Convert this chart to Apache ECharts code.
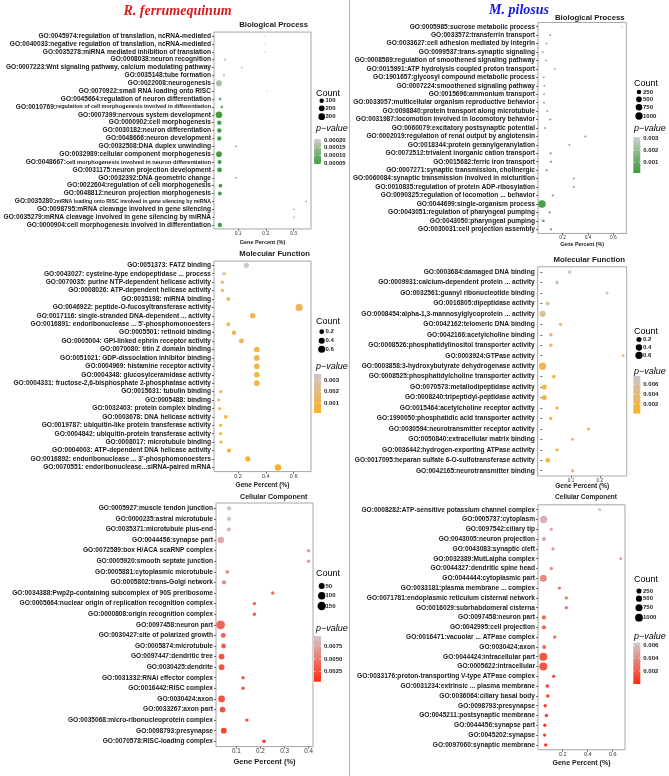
<!DOCTYPE html>
<html><head><meta charset="utf-8">
<script src="https://cdn.jsdelivr.net/npm/echarts@6/dist/echarts.min.js"></script>
<style>html,body{margin:0;padding:0;background:#fff}#c{width:669px;height:776px}</style>
</head><body><div id="c"></div><script>
// ---------------- DATA ----------------
const rfBpTerms = [
"GO:0045974:regulation of translation, ncRNA-mediated",
"GO:0040033:negative regulation of translation, ncRNA-mediated",
"GO:0035278:miRNA mediated inhibition of translation",
"GO:0008038:neuron recognition",
"GO:0007223:Wnt signaling pathway, calcium modulating pathway",
"GO:0035148:tube formation",
"GO:0022008:neurogenesis",
"GO:0070922:small RNA loading onto RISC",
"GO:0045664:regulation of neuron differentiation",
"GO:0010769:regulation of cell morphogenesis involved in differentiation",
"GO:0007399:nervous system development",
"GO:0000902:cell morphogenesis",
"GO:0030182:neuron differentiation",
"GO:0048666:neuron development",
"GO:0032508:DNA duplex unwinding",
"GO:0032989:cellular component morphogenesis",
"GO:0048667:cell morphogenesis involved in neuron differentiation",
"GO:0031175:neuron projection development",
"GO:0032392:DNA geometric change",
"GO:0022604:regulation of cell morphogenesis",
"GO:0048812:neuron projection morphogenesis",
"GO:0035280:miRNA loading onto RISC involved in gene silencing by miRNA",
"GO:0098795:mRNA cleavage involved in gene silencing",
"GO:0035279:mRNA cleavage involved in gene silencing by miRNA",
"GO:0000904:cell morphogenesis involved in differentiation"];
const rfBpPct = [0.198,0.198,0.198,0.053,0.113,0.049,0.031,0.204,0.035,0.041,0.031,0.032,0.032,0.032,0.092,0.031,0.033,0.033,0.092,0.036,0.034,0.346,0.302,0.302,0.034];
const rfBpCount = [2,2,2,7,4,7,230,2,32,17,300,94,94,94,3,200,76,120,3,61,61,2,2,2,94];
const rfBpP = [0.0002,0.0002,0.0002,0.00018,0.00019,0.00017,0.00017,0.0002,0.00011,0.00008,0.00005,0.00005,0.00005,0.00005,0.00006,0.00005,0.00005,0.00005,0.00006,0.00005,0.00005,0.00005,0.00005,0.00005,0.00005];
const rfBpTicks = [0.1,0.2,0.3];
const rfBpCountBreaks = [100,200,300];
const rfBpPBreaks = [0.0002,0.00015,0.0001,0.00005];
const rfBpPLabels = ["0.00020","0.00015","0.00010","0.00005"];

const rfMfTerms = [
"GO:0051373: FATZ binding",
"GO:0043027: cysteine-type endopeptidase ... process",
"GO:0070035: purine NTP-dependent helicase activity",
"GO:0008026: ATP-dependent helicase activity",
"GO:0035198: miRNA binding",
"GO:0046922: peptide-O-fucosyltransferase activity",
"GO:0017116: single-stranded DNA-dependent ... activity",
"GO:0016891: endoribonuclease ... 5'-phosphomonoesters",
"GO:0005501: retinoid binding",
"GO:0005004: GPI-linked ephrin receptor activity",
"GO:0070080: titin Z domain binding",
"GO:0051021: GDP-dissociation inhibitor binding",
"GO:0004969: histamine receptor activity",
"GO:0004348: glucosylceramidase activity",
"GO:0004331: fructose-2,6-bisphosphate 2-phosphatase activity",
"GO:0015631: tubulin binding",
"GO:0005488: binding",
"GO:0032403: protein complex binding",
"GO:0003678: DNA helicase activity",
"GO:0019787: ubiquitin-like protein transferase activity",
"GO:0004842: ubiquitin-protein transferase activity",
"GO:0008017: microtubule binding",
"GO:0004003: ATP-dependent DNA helicase activity",
"GO:0016892: endoribonuclease ... 3'-phosphomonoesters",
"GO:0070551: endoribonuclease...siRNA-paired mRNA"];
const rfMfPct = [0.26,0.099,0.087,0.087,0.13,0.64,0.306,0.13,0.171,0.224,0.335,0.335,0.335,0.335,0.335,0.075,0.06,0.068,0.111,0.075,0.075,0.077,0.135,0.27,0.487];
const rfMfCount = [0.26,0.099,0.087,0.087,0.13,0.64,0.306,0.13,0.171,0.224,0.335,0.335,0.335,0.335,0.335,0.075,0.06,0.068,0.111,0.075,0.075,0.077,0.135,0.27,0.487];
const rfMfP = [0.0035,0.0025,0.0019,0.0019,0.0016,0.0013,0.0012,0.0013,0.0012,0.0011,0.001,0.001,0.001,0.001,0.001,0.0008,0.0008,0.0008,0.0007,0.0007,0.0007,0.0007,0.0006,0.0005,0.0004];
const rfMfTicks = [0.2,0.4,0.6];
const rfMfCountBreaks = [0.2,0.4,0.6];
const rfMfPBreaks = [0.003,0.002,0.001];
const rfMfPLabels = ["0.003","0.002","0.001"];

const rfCcTerms = [
"GO:0005927:muscle tendon junction",
"GO:0000235:astral microtubule",
"GO:0035371:microtubule plus-end",
"GO:0044456:synapse part",
"GO:0072589:box H/ACA scaRNP complex",
"GO:0005920:smooth septate junction",
"GO:0005881:cytoplasmic microtubule",
"GO:0005802:trans-Golgi network",
"GO:0034388:Pwp2p-containing subcomplex of 90S preribosome",
"GO:0005664:nuclear origin of replication recognition complex",
"GO:0000808:origin recognition complex",
"GO:0097458:neuron part",
"GO:0030427:site of polarized growth",
"GO:0005874:microtubule",
"GO:0097447:dendritic tree",
"GO:0030425:dendrite",
"GO:0031332:RNAi effector complex",
"GO:0016442:RISC complex",
"GO:0030424:axon",
"GO:0033267:axon part",
"GO:0035068:micro-ribonucleoprotein complex",
"GO:0098793:presynapse",
"GO:0070578:RISC-loading complex"];
const rfCcPct = [0.070,0.070,0.069,0.036,0.40,0.40,0.063,0.049,0.251,0.175,0.175,0.035,0.046,0.047,0.039,0.039,0.128,0.128,0.039,0.043,0.144,0.048,0.215];
const rfCcCount = [10,10,10,62,4,4,7,10,4,4,4,175,20,20,42,42,4,4,72,42,4,42,4];
const rfCcP = [0.009,0.009,0.0085,0.0078,0.0068,0.0068,0.0065,0.006,0.004,0.0035,0.0035,0.004,0.0033,0.0033,0.003,0.003,0.003,0.003,0.0028,0.0028,0.0025,0.0018,0.001];
const rfCcTicks = [0.1,0.2,0.3,0.4];
const rfCcCountBreaks = [50,100,150];
const rfCcPBreaks = [0.0075,0.005,0.0025];
const rfCcPLabels = ["0.0075","0.0050","0.0025"];

const mpBpTerms = [
"GO:0005985:sucrose metabolic process",
"GO:0033572:transferrin transport",
"GO:0033627:cell adhesion mediated by integrin",
"GO:0099537:trans-synaptic signaling",
"GO:0008589:regulation of smoothened signaling pathway",
"GO:0015991:ATP hydrolysis coupled proton transport",
"GO:1901657:glycosyl compound metabolic process",
"GO:0007224:smoothened signaling pathway",
"GO:0015696:ammonium transport",
"GO:0033057:multicellular organism reproductive behavior",
"GO:0098840:protein transport along microtubule",
"GO:0031987:locomotion involved in locomotory behavior",
"GO:0060079:excitatory postsynaptic potential",
"GO:0002019:regulation of renal output by angiotensin",
"GO:0018344:protein geranylgeranylation",
"GO:0072512:trivalent inorganic cation transport",
"GO:0015682:ferric iron transport",
"GO:0007271:synaptic transmission, cholinergic",
"GO:0060084:synaptic transmission involved in micturition",
"GO:0010835:regulation of protein ADP-ribosylation",
"GO:0090325:regulation of locomotion ... behavior",
"GO:0044699:single-organism process",
"GO:0043051:regulation of pharyngeal pumping",
"GO:0043050:pharyngeal pumping",
"GO:0030031:cell projection assembly"];
const mpBpPct = [0.671,0.102,0.073,0.042,0.068,0.137,0.050,0.055,0.052,0.052,0.078,0.102,0.06,0.379,0.252,0.105,0.107,0.073,0.287,0.287,0.121,0.036,0.097,0.047,0.107];
const mpBpCount = [3,8,8,10,8,5,10,10,10,10,8,8,10,4,4,8,8,8,4,4,8,1100,8,40,12];
const mpBpP = [0.003,0.0019,0.0019,0.002,0.0019,0.0019,0.0019,0.0019,0.0018,0.0018,0.0017,0.0012,0.0016,0.0008,0.0008,0.0008,0.0008,0.0009,0.0007,0.0007,0.0008,0.0003,0.0008,0.0007,0.0007];
const mpBpTicks = [0.2,0.4,0.6];
const mpBpCountBreaks = [250,500,750,1000];
const mpBpPBreaks = [0.003,0.002,0.001];
const mpBpPLabels = ["0.003","0.002","0.001"];

const mpMfTerms = [
"GO:0003684:damaged DNA binding",
"GO:0009931:calcium-dependent protein ... activity",
"GO:0032561:guanyl ribonucleotide binding",
"GO:0016805:dipeptidase activity",
"GO:0008454:alpha-1,3-mannosylglycoprotein ... activity",
"GO:0042162:telomeric DNA binding",
"GO:0042166:acetylcholine binding",
"GO:0008526:phosphatidylinositol transporter activity",
"GO:0003924:GTPase activity",
"GO:0003858:3-hydroxybutyrate dehydrogenase activity",
"GO:0008525:phosphatidylcholine transporter activity",
"GO:0070573:metallodipeptidase activity",
"GO:0008240:tripeptidyl-peptidase activity",
"GO:0015464:acetylcholine receptor activity",
"GO:1990050:phosphatidic acid transporter activity",
"GO:0030594:neurotransmitter receptor activity",
"GO:0050840:extracellular matrix binding",
"GO:0036442:hydrogen-exporting ATPase activity",
"GO:0017095:heparan sulfate 6-O-sulfotransferase activity",
"GO:0042165:neurotransmitter binding"];
const mpMfPct = [0.095,0.051,0.225,0.019,0.001,0.063,0.030,0.030,0.281,0.001,0.040,0.007,0.007,0.051,0.029,0.16,0.105,0.051,0.019,0.105];
const mpMfCount = [0.084,0.084,0.056,0.104,0.395,0.065,0.074,0.074,0.051,0.6,0.084,0.2,0.2,0.065,0.074,0.056,0.056,0.065,0.166,0.056];
const mpMfP = [0.0072,0.0066,0.0064,0.0055,0.0055,0.004,0.003,0.003,0.0026,0.0022,0.002,0.0018,0.0018,0.0016,0.0016,0.0014,0.0013,0.0012,0.001,0.0009];
const mpMfTicks = [0.1,0.2];
const mpMfCountBreaks = [0.2,0.4,0.6];
const mpMfPBreaks = [0.006,0.004,0.002];
const mpMfPLabels = ["0.006","0.004","0.002"];

const mpCcTerms = [
"GO:0008282:ATP-sensitive potassium channel complex",
"GO:0005737:cytoplasm",
"GO:0097542:ciliary tip",
"GO:0043005:neuron projection",
"GO:0043083:synaptic cleft",
"GO:0032389:MutLalpha complex",
"GO:0044327:dendritic spine head",
"GO:0044444:cytoplasmic part",
"GO:0033181:plasma membrane ... complex",
"GO:0071781:endoplasmic reticulum cisternal network",
"GO:0016029:subrhabdomeral cisterna",
"GO:0097458:neuron part",
"GO:0042995:cell projection",
"GO:0016471:vacuolar ... ATPase complex",
"GO:0030424:axon",
"GO:0044424:intracellular part",
"GO:0005622:intracellular",
"GO:0033176:proton-transporting V-type ATPase complex",
"GO:0031234:extrinsic ... plasma membrane",
"GO:0036064:ciliary basal body",
"GO:0098793:presynapse",
"GO:0045211:postsynaptic membrane",
"GO:0044456:synapse part",
"GO:0045202:synapse",
"GO:0097060:synaptic membrane"];
const mpCcPct = [0.496,0.048,0.109,0.05,0.122,0.664,0.109,0.045,0.173,0.229,0.229,0.05,0.05,0.136,0.052,0.045,0.045,0.128,0.077,0.08,0.06,0.07,0.057,0.055,0.064];
const mpCcCount = [26,833,26,84,26,4,26,733,26,26,26,120,120,26,84,1093,1100,26,40,40,30,35,30,30,35];
const mpCcP = [0.0063,0.0055,0.005,0.0048,0.0045,0.0043,0.0042,0.004,0.0034,0.003,0.003,0.0027,0.0027,0.0025,0.0024,0.0018,0.0018,0.0012,0.0009,0.0008,0.0007,0.0006,0.0006,0.0005,0.0005];
const mpCcTicks = [0.2,0.4,0.6];
const mpCcCountBreaks = [250,500,750,1000];
const mpCcPBreaks = [0.006,0.004,0.002];
const mpCcPLabels = ["0.006","0.004","0.002"];

// ---------------- STYLE / LAYOUT ----------------
const GREEN = {low:'#3b9c3b', high:'#cdcdcd'};
const ORANGE = {low:'#fdb022', high:'#cdc4cd'};
const RED = {low:'#ff2a12', high:'#d2c8c8'};
const FONT = '"Liberation Sans", Arial, sans-serif';
// condensed description font sizes for long labels
const condensed = {"GO:0010769":5.5, "GO:0048667":5.7, "GO:0035280":5.2};

const panels = [
 {terms:rfBpTerms,pct:rfBpPct,cnt:rfBpCount,pv:rfBpP,ticks:rfBpTicks,
  rowFirst:36,rowStep:7.875,left:214,right:311,xMin:0.013,xMax:0.363,tickFont:5,nameFont:5.5,nameY:242,tickMargin:2,
  title:'Biological Process',titleX:273.7,titleY:25,titleFont:7.7,col:GREEN,pMin:0.000043,pMax:0.000207,
  sz:{lo:2,hi:300,dmin:1.4,dmax:6.7},
  leg:{x:316,dotX:321.7,labX:325.5,countY:93.3,vals:rfBpCountBreaks,ys:[100.7,108.3,116.7],pY:128,barX:314,barTop:139,barH:25,pb:rfBpPBreaks,pl:rfBpPLabels}},
 {terms:rfMfTerms,pct:rfMfPct,cnt:rfMfCount,pv:rfMfP,ticks:rfMfTicks,
  rowFirst:265.3,rowStep:8.42,left:214,right:311,xMin:0.0267,xMax:0.725,tickFont:5.5,nameFont:6.5,nameY:485,tickMargin:2,
  title:'Molecular Function',titleX:274.6,titleY:254,titleFont:7.7,col:ORANGE,pMin:0.0001,pMax:0.0036,
  sz:{lo:0.05,hi:0.64,dmin:2.2,dmax:7.2},
  leg:{x:316,dotX:321.7,labX:325.5,countY:322,vals:rfMfCountBreaks,ys:[331.7,340.7,349.3],pY:366.3,barX:314,barTop:374,barH:39,pb:rfMfPBreaks,pl:rfMfPLabels}},
 {terms:rfCcTerms,pct:rfCcPct,cnt:rfCcCount,pv:rfCcP,ticks:rfCcTicks,
  rowFirst:508.3,rowStep:10.59,left:216,right:313,xMin:0.0158,xMax:0.418,tickFont:6.3,nameFont:7.5,nameY:761.7,tickMargin:2,
  title:'Cellular Component',titleX:273.7,titleY:496.7,titleFont:7.1,col:RED,pMin:0.0005,pMax:0.0095,
  sz:{lo:3,hi:175,dmin:3,dmax:8.8},
  leg:{x:316,dotX:321.7,labX:325.5,countY:574,vals:rfCcCountBreaks,ys:[586,595.7,606],pY:628.3,barX:314,barTop:636,barH:45.7,pb:rfCcPBreaks,pl:rfCcPLabels}},
 {terms:mpBpTerms,pct:mpBpPct,cnt:mpBpCount,pv:mpBpP,ticks:mpBpTicks,
  rowFirst:26.7,rowStep:8.44,left:538,right:626.3,xMin:0.0047,xMax:0.7028,tickFont:4.8,nameFont:5.3,nameY:244.3,tickMargin:2,
  title:'Biological Process',titleX:589.8,titleY:17.7,titleFont:7.8,col:GREEN,pMin:0.0001,pMax:0.0031,
  sz:{lo:3,hi:1100,dmin:1.7,dmax:7.6},
  leg:{x:634,dotX:639,labX:643,countY:84,vals:mpBpCountBreaks,ys:[92,99.3,107.3,116],pY:128,barX:633.3,barTop:137,barH:36,pb:mpBpPBreaks,pl:mpBpPLabels}},
 {terms:mpMfTerms,pct:mpMfPct,cnt:mpMfCount,pv:mpMfP,ticks:mpMfTicks,
  rowFirst:272,rowStep:10.46,left:537.7,right:626.7,xMin:-0.016,xMax:0.293,tickFont:4.8,nameFont:6.5,nameY:486.5,tickMargin:2,
  title:'Molecular Function',titleX:589.2,titleY:259.7,titleFont:7.8,col:ORANGE,pMin:0.00002,pMax:0.0077,
  sz:{lo:0.05,hi:0.6,dmin:2.5,dmax:7.3},
  leg:{x:634,dotX:639,labX:643,countY:332,vals:mpMfCountBreaks,ys:[339.5,347.5,355.3],pY:371,barX:633.3,barTop:376,barH:37.6,pb:mpMfPBreaks,pl:mpMfPLabels}},
 {terms:mpCcTerms,pct:mpCcPct,cnt:mpCcCount,pv:mpCcP,ticks:mpCcTicks,
  rowFirst:509.7,rowStep:9.80,left:538,right:625,xMin:0.0024,xMax:0.698,tickFont:5.5,nameFont:7,nameY:763.3,tickMargin:2,
  title:'Cellular Component',titleX:586,titleY:497.3,titleFont:6.5,col:RED,pMin:0.00001,pMax:0.00635,
  sz:{lo:3,hi:1300,dmin:2.5,dmax:8.5},
  leg:{x:634,dotX:639,labX:643,countY:580,vals:mpCcCountBreaks,ys:[591,598.7,607.7,617.7],pY:636.7,barX:633.3,barTop:642.7,barH:41.3,pb:mpCcPBreaks,pl:mpCcPLabels}}
];

function sizeOf(sz, c){
  const r = Math.max(0, Math.min(1, (c - sz.lo) / (sz.hi - sz.lo)));
  return sz.dmin + (sz.dmax - sz.dmin) * Math.sqrt(r);
}

const grids=[], xAxes=[], yAxes=[], series=[], visualMaps=[], graphics=[];
const richBase = {a:{fontSize:6.6,fontWeight:'bold',color:'#1a1a1a',fontFamily:FONT}};
Object.keys(condensed).forEach((k,i)=>{ richBase['s'+i]={fontSize:condensed[k],fontWeight:'bold',color:'#1a1a1a',fontFamily:FONT}; });
const condKeys = Object.keys(condensed);

panels.forEach((p,i)=>{
  const n = p.terms.length;
  const top = p.rowFirst - p.rowStep/2;
  const h = n * p.rowStep;
  grids.push({left:p.left, top:top, width:p.right-p.left, height:h, show:true, borderColor:'#a6a6a6', borderWidth:1, backgroundColor:'#fff', containLabel:false});
  xAxes.push({type:'value', gridIndex:i, min:p.xMin, max:p.xMax,
    axisLine:{show:false}, splitLine:{show:false},
    axisTick:{show:true, length:2, lineStyle:{color:'#444', width:0.8}, customValues:p.ticks},
    axisLabel:{fontSize:p.tickFont, color:'#333', margin:p.tickMargin, fontFamily:FONT, customValues:p.ticks,
      formatter:v=>String(Math.round(v*10)/10)}});
  yAxes.push({type:'category', gridIndex:i, data:p.terms, inverse:true,
    axisLine:{show:false}, splitLine:{show:false},
    axisTick:{show:true, length:2, alignWithLabel:true, lineStyle:{color:'#444', width:0.8}},
    axisLabel:{interval:0, margin:3, rich:richBase, formatter:(v)=>{
      const id = v.slice(0,10);
      const ci = condKeys.indexOf(id);
      if (ci>=0) return '{a|'+v.slice(0,11)+'}{s'+ci+'|'+v.slice(11)+'}';
      return '{a|'+v+'}';
    }}});
  series.push({type:'scatter', xAxisIndex:i, yAxisIndex:i,
    data:p.pct.map((x,j)=>[x, j, p.cnt[j], p.pv[j]]),
    symbol:'circle', symbolSize:(val)=>sizeOf(p.sz, val[2]),
    itemStyle:{opacity:1}, emphasis:{disabled:true}});
  visualMaps.push({type:'continuous', show:false, seriesIndex:i, dimension:3, min:p.pMin, max:p.pMax,
    inRange:{color:[p.col.low, p.col.high]}});
  // panel title
  graphics.push({type:'text', style:{text:p.title, x:p.titleX, y:p.titleY, textAlign:'center', textVerticalAlign:'middle',
    font:'bold '+p.titleFont+'px '+FONT, fill:'#1a1a1a'}});
  // x axis name
  graphics.push({type:'text', style:{text:'Gene Percent (%)', x:(p.left+p.right)/2, y:p.nameY, textAlign:'center', textVerticalAlign:'middle',
    font:'bold '+p.nameFont+'px '+FONT, fill:'#1a1a1a'}});
  // count legend
  const L = p.leg;
  graphics.push({type:'text', style:{text:'Count', x:L.x, y:L.countY, textAlign:'left', textVerticalAlign:'middle', font:'9px '+FONT, fill:'#000'}});
  L.vals.forEach((v,k)=>{
    graphics.push({type:'circle', shape:{cx:L.dotX, cy:L.ys[k], r:sizeOf(p.sz,v)/2}, style:{fill:'#000'}});
    graphics.push({type:'text', style:{text:String(v), x:L.labX, y:L.ys[k], textAlign:'left', textVerticalAlign:'middle', font:'bold 6px '+FONT, fill:'#1a1a1a'}});
  });
  graphics.push({type:'text', style:{text:'p\u2212value', x:L.x, y:L.pY, textAlign:'left', textVerticalAlign:'middle', font:'italic 9px '+FONT, fill:'#000'}});
  graphics.push({type:'rect', shape:{x:L.barX, y:L.barTop, width:7, height:L.barH},
    style:{fill:new echarts.graphic.LinearGradient(0,0,0,1,[{offset:0,color:p.col.high},{offset:1,color:p.col.low}])}});
  L.pb.forEach((v,k)=>{
    const yy = L.barTop + (p.pMax - v)/(p.pMax - p.pMin)*L.barH;
    graphics.push({type:'line', shape:{x1:L.barX, y1:yy, x2:L.barX+1.5, y2:yy}, style:{stroke:'#fff', lineWidth:0.6}});
    graphics.push({type:'line', shape:{x1:L.barX+5.5, y1:yy, x2:L.barX+7, y2:yy}, style:{stroke:'#fff', lineWidth:0.6}});
    graphics.push({type:'text', style:{text:L.pl[k], x:L.barX+10, y:yy, textAlign:'left', textVerticalAlign:'middle', font:'bold 6px '+FONT, fill:'#1a1a1a'}});
  });
});

// divider and species titles
graphics.push({type:'line', shape:{x1:349.5, y1:0, x2:349.5, y2:776}, style:{stroke:'#b4b4b4', lineWidth:1}});
graphics.push({type:'text', style:{text:'R. ferrumequinum', x:177.5, y:11, textAlign:'center', textVerticalAlign:'middle',
  font:'italic bold 14px "Liberation Serif", "Times New Roman", serif', fill:'#d81c1c'}});
graphics.push({type:'text', style:{text:'M. pilosus', x:519, y:10.5, textAlign:'center', textVerticalAlign:'middle',
  font:'italic bold 14px "Liberation Serif", "Times New Roman", serif', fill:'#1515e6'}});

const chart = echarts.init(document.getElementById('c'), null, {renderer:'canvas', width:669, height:776});
chart.setOption({
  animation:false, backgroundColor:'#fff',
  textStyle:{fontFamily:FONT},
  grid:grids, xAxis:xAxes, yAxis:yAxes, series:series, visualMap:visualMaps,
  graphic:{elements:graphics}
});
</script></body></html>
